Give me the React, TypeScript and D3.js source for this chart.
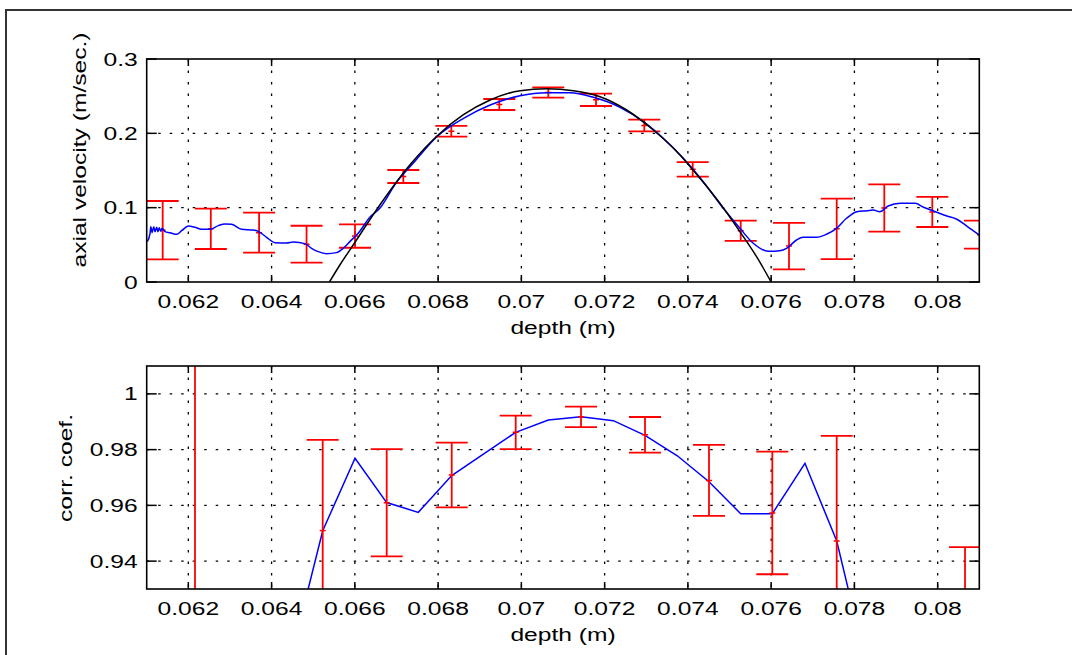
import React from 'react';
import * as d3 from 'd3';

// ---------- data ----------
const depthTicks = [0.062, 0.064, 0.066, 0.068, 0.07, 0.072, 0.074, 0.076, 0.078, 0.08];
const depthTickLabels = ['0.062', '0.064', '0.066', '0.068', '0.07', '0.072', '0.074', '0.076', '0.078', '0.08'];

const velTicks = [0, 0.1, 0.2, 0.3];
const velTickLabels = ['0', '0.1', '0.2', '0.3'];
const corrTicks = [0.94, 0.96, 0.98, 1];
const corrTickLabels = ['0.94', '0.96', '0.98', '1'];

// measured axial velocity (blue)
const velDepth = [
  0.061014, 0.06108, 0.0611, 0.06113, 0.06117, 0.0612, 0.06124, 0.06127, 0.0613, 0.06134, 0.06137, 0.06142,
  0.06144, 0.06156, 0.06172, 0.06184, 0.0620, 0.06216, 0.06232, 0.06252, 0.06272, 0.06288, 0.06304, 0.06328,
  0.06356, 0.06372, 0.06388, 0.06408, 0.06436, 0.06452, 0.0648, 0.06496, 0.06512, 0.06532, 0.06556, 0.06572,
  0.06588, 0.06608, 0.06636, 0.0666, 0.067, 0.0674, 0.06797, 0.06861, 0.06925, 0.06997, 0.07061, 0.07117,
  0.07173, 0.07237, 0.07293, 0.07341, 0.07389, 0.07437, 0.07485, 0.07525, 0.07557, 0.07593, 0.07621, 0.07637,
  0.07661, 0.07677, 0.07709, 0.07733, 0.07757, 0.07781, 0.07806, 0.0783, 0.07845, 0.07861, 0.07881, 0.0791,
  0.07946, 0.07966, 0.0799, 0.08022, 0.08046, 0.0807, 0.081,
];
const velMeasured = [
  0.0542, 0.0655, 0.0744, 0.0663, 0.0744, 0.0677, 0.0736, 0.0677, 0.0731, 0.0682, 0.0722, 0.069,
  0.0677, 0.0663, 0.0641, 0.069, 0.0753, 0.0736, 0.0709, 0.0709, 0.0758, 0.078, 0.0776, 0.0709,
  0.07, 0.0668, 0.0601, 0.0529, 0.0525, 0.0538, 0.0516, 0.0453, 0.0408, 0.0381, 0.0395, 0.0453,
  0.0543, 0.0655, 0.087, 0.0991, 0.134, 0.1597, 0.1955, 0.2202, 0.2381, 0.2507, 0.2547, 0.2547,
  0.2485, 0.235, 0.2157, 0.1933, 0.1664, 0.1349, 0.0991, 0.0722, 0.0521, 0.0413, 0.0421, 0.0453,
  0.0565, 0.0601, 0.0601, 0.0642, 0.0722, 0.0857, 0.0946, 0.0959, 0.0969, 0.0946, 0.1022, 0.1059,
  0.1059, 0.1005, 0.0955, 0.0888, 0.0844, 0.0753, 0.0632,
];

// theoretical profile (black)
const theoryDepth = [
  0.06539, 0.06564, 0.06596, 0.0666, 0.06732, 0.068, 0.0686, 0.06925, 0.06997, 0.07061, 0.07125,
  0.07189, 0.07253, 0.07317, 0.07381, 0.07429, 0.07477, 0.07525, 0.07565, 0.076,
];
const theoryVel = [
  0, 0.0229, 0.0498, 0.1036, 0.1574, 0.1978, 0.2247, 0.2449, 0.2574, 0.26, 0.2574,
  0.2493, 0.2314, 0.2045, 0.1709, 0.1395, 0.1059, 0.0677, 0.034, 0,
];

// velocity error bars (red)
const velErrDepth = [
  0.061384, 0.06254, 0.0637, 0.06484, 0.066004, 0.067164, 0.068317, 0.06947, 0.070647, 0.071793,
  0.072953, 0.074116, 0.075269, 0.076429, 0.077575, 0.078718, 0.079871, 0.081017,
];
const velErrLow = [
  0.0305, 0.0444, 0.0394, 0.026, 0.0461, 0.1332, 0.1955, 0.2314, 0.248, 0.2368,
  0.2027, 0.1417, 0.0552, 0.0171, 0.0309, 0.0677, 0.074, 0.0448,
];
const velErrHigh = [
  0.109, 0.0986, 0.0932, 0.0757, 0.0776, 0.1507, 0.2099, 0.2462, 0.2619, 0.2533,
  0.2184, 0.1614, 0.0825, 0.0796, 0.1121, 0.1314, 0.1144, 0.0825,
];

// correlation coefficient (blue)
const corrDepth = [
  0.06446, 0.065228, 0.066004, 0.066765, 0.067524, 0.068327, 0.069096, 0.069864, 0.070647, 0.071433,
  0.072209, 0.07297, 0.073746, 0.074507, 0.075269, 0.076028, 0.076812, 0.077575, 0.07835,
];
const corrValue = [
  0.905, 0.9509, 0.9769, 0.961, 0.9575, 0.9707, 0.9785, 0.9862, 0.9906, 0.9918,
  0.9904, 0.9851, 0.9778, 0.9685, 0.957, 0.957, 0.9751, 0.9472, 0.899,
];

// correlation error bars (red)
const corrErrDepth = [
  0.06216, 0.065228, 0.066765, 0.068327, 0.069864, 0.071433, 0.07297, 0.074507, 0.076028, 0.077575, 0.080657,
];
const corrErrLow = [0.76, 0.9184, 0.9417, 0.9593, 0.9802, 0.9881, 0.9789, 0.9562, 0.9353, 0.9095, 0.905];
const corrErrHigh = [1.04, 0.9835, 0.9802, 0.9825, 0.9922, 0.9954, 0.9917, 0.9817, 0.9793, 0.9849, 0.945];

// ---------- style ----------
const FONT = '"Liberation Sans", Arial, Helvetica, sans-serif';
const FS = 18.5;
const SX = 1.33;
const RED = '#ff0000';
const BLUE = '#0000ff';

function Label({ x, y, anchor, rotate, children }: any) {
  return (
    <text
      transform={`translate(${x},${y})${rotate ? ' rotate(-90)' : ''} scale(${SX},1)`}
      textAnchor={anchor}
      fontFamily={FONT}
      fontSize={FS}
      fill="#000"
    >
      {children}
    </text>
  );
}

function ErrorBars({ x, y, depth, low, high }: any) {
  const cap = 16;
  return (
    <g stroke={RED} strokeWidth={1.8} fill="none">
      {depth.map((d: number, i: number) => {
        const cx = x(d);
        const yl = y(low[i]);
        const yh = y(high[i]);
        const ym = y((low[i] + high[i]) / 2);
        return (
          <g key={i}>
            <line x1={cx} x2={cx} y1={yl} y2={yh} />
            <line x1={cx - cap} x2={cx + cap} y1={yl} y2={yl} />
            <line x1={cx - cap} x2={cx + cap} y1={yh} y2={yh} />
            <line x1={cx - 3} x2={cx + 3} y1={ym} y2={ym} strokeWidth={1.5} />
          </g>
        );
      })}
    </g>
  );
}

function Panel({ x, y, yTicks, yTickLabels, ylabel, ylabelX, ylabelY, clipId, children }: any) {
  const [x0, x1] = x.range();
  const [yb, yt] = y.range();
  const [d0, d1] = y.domain();
  const xt = 7;
  const yTickLen = 10;
  return (
    <g>
      <defs>
        <clipPath id={clipId}>
          <rect x={x0} y={yt} width={x1 - x0} height={yb - yt} />
        </clipPath>
      </defs>
      {/* grid */}
      <g stroke="#000" strokeWidth={1.3} strokeDasharray="2.5 9">
        {depthTicks.map((t, i) => (
          <line key={'gx' + i} x1={x(t)} x2={x(t)} y1={yt} y2={yb} />
        ))}
        {yTicks
          .filter((t: number) => t > d0 + 1e-9 && t < d1 - 1e-9)
          .map((t: number, i: number) => (
            <line key={'gy' + i} x1={x0} x2={x1} y1={y(t)} y2={y(t)} />
          ))}
      </g>
      <g clipPath={`url(#${clipId})`}>{children}</g>
      {/* ticks */}
      <g stroke="#000" strokeWidth={1.5}>
        {depthTicks.map((t, i) => (
          <g key={'tx' + i}>
            <line x1={x(t)} x2={x(t)} y1={yb} y2={yb - xt} />
            <line x1={x(t)} x2={x(t)} y1={yt} y2={yt + xt} />
          </g>
        ))}
        {yTicks.map((t: number, i: number) => (
          <g key={'ty' + i}>
            <line x1={x0} x2={x0 + yTickLen} y1={y(t)} y2={y(t)} />
            <line x1={x1} x2={x1 - yTickLen} y1={y(t)} y2={y(t)} />
          </g>
        ))}
      </g>
      <rect x={x0} y={yt} width={x1 - x0} height={yb - yt} fill="none" stroke="#000" strokeWidth={1.6} />
      {/* tick labels */}
      {depthTicks.map((t, i) => (
        <Label key={'lx' + i} x={x(t)} y={yb + 25.5} anchor="middle">
          {depthTickLabels[i]}
        </Label>
      ))}
      {yTicks.map((t: number, i: number) => (
        <Label key={'ly' + i} x={x0 - 9} y={y(t) + 6.6} anchor="end">
          {yTickLabels[i]}
        </Label>
      ))}
      <Label x={(x0 + x1) / 2} y={yb + 52} anchor="middle">
        depth (m)
      </Label>
      <Label x={ylabelX} y={ylabelY} anchor="middle" rotate>
        {ylabel}
      </Label>
    </g>
  );
}

export default function App() {
  const x = d3.scaleLinear().domain([0.061, 0.081]).range([146.7, 979.3]);
  const yVel = d3.scaleLinear().domain([0, 0.3]).range([282, 59]);
  const yCorr = d3.scaleLinear().domain([0.93, 1.01]).range([589, 366]);

  const velLine = d3
    .line<number>()
    .x((d) => x(d))
    .y((_, i) => yVel(velMeasured[i]))
    .curve(d3.curveMonotoneX);
  const theoryLine = d3
    .line<number>()
    .x((d) => x(d))
    .y((_, i) => yVel(theoryVel[i]))
    .curve(d3.curveMonotoneX);
  const corrLine = d3
    .line<number>()
    .x((d) => x(d))
    .y((_, i) => yCorr(corrValue[i]));

  return (
    <svg
      width={1072}
      height={655}
      style={{ position: 'absolute', left: 0, top: 0, background: '#fff' }}
    >
      <rect x={0} y={0} width={1072} height={655} fill="#fff" />
      <rect x={6} y={10} width={1200} height={800} fill="none" stroke="#333" strokeWidth={2} />

      <Panel
        x={x}
        y={yVel}
        yTicks={velTicks}
        yTickLabels={velTickLabels}
        ylabel="axial velocity (m/sec.)"
        ylabelX={86.4}
        ylabelY={150}
        clipId="clipVel"
      >
        <ErrorBars x={x} y={yVel} depth={velErrDepth} low={velErrLow} high={velErrHigh} />
        <path d={velLine(velDepth) || ''} fill="none" stroke={BLUE} strokeWidth={1.5} />
        <path d={theoryLine(theoryDepth) || ''} fill="none" stroke="#000" strokeWidth={1.5} />
      </Panel>

      <Panel
        x={x}
        y={yCorr}
        yTicks={corrTicks}
        yTickLabels={corrTickLabels}
        ylabel="corr. coef."
        ylabelX={72}
        ylabelY={468}
        clipId="clipCorr"
      >
        <path d={corrLine(corrDepth) || ''} fill="none" stroke={BLUE} strokeWidth={1.5} />
        <ErrorBars x={x} y={yCorr} depth={corrErrDepth} low={corrErrLow} high={corrErrHigh} />
      </Panel>
    </svg>
  );
}
